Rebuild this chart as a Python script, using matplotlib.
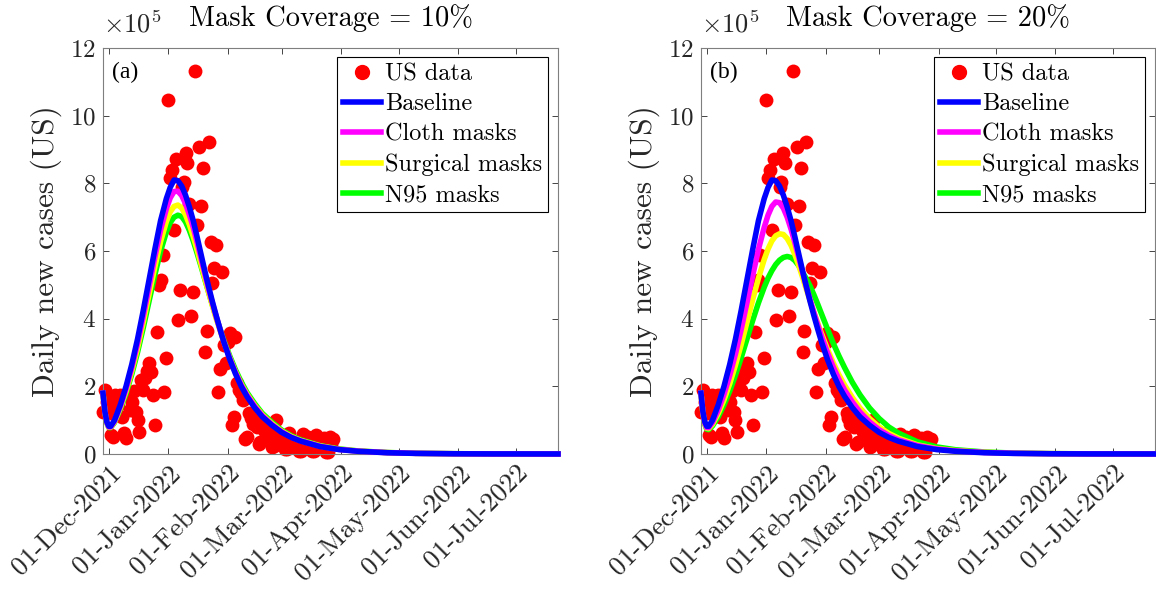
import numpy as np
import matplotlib
matplotlib.use("Agg")
import matplotlib.pyplot as plt
import matplotlib.dates as mdates
from matplotlib.lines import Line2D

plt.rcParams["font.family"] = ["cmr10", "DejaVu Serif"]
plt.rcParams["mathtext.fontset"] = "cm"
plt.rcParams["axes.formatter.use_mathtext"] = True

# day offsets are counted from 01-Dec-2021, values in units of 1e5 cases
start = np.datetime64("2021-12-01")

data_days = list(range(-3, 118))
data_vals = [1.25, 1.89, 1.55, 1.2, 0.55, 0.51, 1.75, 1.25, 1.45, 1.74,
             1.1, 0.62, 0.46, 1.75, 1.3, 1.55, 1.85, 1.25, 1.0, 0.66,
             2.2, 1.89, 2.25, 2.45, 2.68, 2.43, 1.74, 0.86, 3.62, 5.0,
             5.14, 5.88, 1.84, 2.83, 10.46, 8.15, 8.39, 6.62, 8.71, 3.96,
             4.85, 7.9, 8.05, 8.9, 8.6, 7.4, 4.08, 4.8, 11.32, 6.77,
             9.08, 7.33, 8.45, 3.02, 3.64, 9.23, 6.28, 5.05, 5.5, 6.18,
             1.84, 2.5, 5.39, 3.22, 2.68, 3.3, 3.57, 0.86, 1.1, 3.45,
             2.09, 1.9, 1.79, 1.6, 0.45, 0.5, 1.2, 1.05, 0.9, 1.0,
             0.8, 0.3, 0.35, 0.9, 0.7, 0.6, 0.65, 0.5, 0.2, 0.25,
             1.0, 0.55, 0.45, 0.5, 0.4, 0.15, 0.15, 0.62, 0.35, 0.3,
             0.35, 0.3, 0.1, 0.1, 0.6, 0.3, 0.25, 0.51, 0.25, 0.08,
             0.08, 0.55, 0.25, 0.25, 0.3, 0.47, 0.05, 0.05, 0.5, 0.3,
             0.45]

curve_days = [-3, -2, -1, 0, 1, 3, 6, 9, 12, 15, 18, 21, 24, 27, 30, 32, 34, 36,
              38, 40, 42, 44, 46, 48, 50, 52, 54, 56, 58, 60, 63, 66, 69, 72, 76,
              80, 85, 90, 95, 100, 110, 120, 130, 145, 160, 180, 200, 234]

baseline = [1.80, 1.25, 0.95, 0.82, 0.82, 1.0, 1.45, 2.0, 2.65, 3.4, 4.25, 5.15,
            6.05, 6.9, 7.55, 7.88, 8.1, 8.08, 7.92, 7.65, 7.3, 6.9, 6.42, 5.92,
            5.42, 4.95, 4.5, 4.08, 3.68, 3.3, 2.8, 2.37, 2.0, 1.7, 1.37, 1.1,
            0.85, 0.64, 0.49, 0.38, 0.22, 0.13, 0.08, 0.038, 0.018, 0.007, 0.003, 0.001]

# panel (a): 10% coverage
cloth_10 = [1.80, 1.25, 0.94, 0.8, 0.8, 0.97, 1.4, 1.92, 2.55, 3.27, 4.08, 4.95,
            5.82, 6.62, 7.25, 7.57, 7.76, 7.77, 7.64, 7.4, 7.07, 6.7, 6.26, 5.8,
            5.33, 4.88, 4.46, 4.06, 3.68, 3.32, 2.83, 2.41, 2.04, 1.74, 1.41, 1.13,
            0.87, 0.66, 0.5, 0.39, 0.23, 0.135, 0.083, 0.04, 0.019, 0.008, 0.003, 0.001]
surgical_10 = [1.80, 1.24, 0.93, 0.79, 0.79, 0.95, 1.36, 1.85, 2.45, 3.13, 3.9, 4.72,
               5.53, 6.28, 6.87, 7.16, 7.32, 7.36, 7.27, 7.07, 6.78, 6.43, 6.04, 5.62,
               5.2, 4.78, 4.38, 4.0, 3.65, 3.31, 2.84, 2.43, 2.07, 1.77, 1.44, 1.16,
               0.9, 0.68, 0.52, 0.4, 0.24, 0.14, 0.086, 0.042, 0.02, 0.008, 0.003, 0.001]
n95_10 = [1.80, 1.23, 0.92, 0.78, 0.78, 0.93, 1.32, 1.79, 2.36, 3.01, 3.74, 4.52,
          5.29, 6.0, 6.56, 6.84, 7.0, 7.06, 7.02, 6.86, 6.61, 6.3, 5.94, 5.56,
          5.17, 4.78, 4.4, 4.03, 3.69, 3.36, 2.9, 2.49, 2.13, 1.82, 1.49, 1.2,
          0.94, 0.71, 0.54, 0.42, 0.25, 0.15, 0.09, 0.044, 0.021, 0.009, 0.003, 0.001]

# panel (b): 20% coverage
cloth_20 = [1.80, 1.23, 0.92, 0.78, 0.78, 0.93, 1.3, 1.76, 2.32, 2.96, 3.69, 4.48,
            5.28, 6.05, 6.7, 7.06, 7.32, 7.45, 7.43, 7.27, 7.0, 6.65, 6.25, 5.82,
            5.38, 4.95, 4.55, 4.17, 3.81, 3.47, 3.0, 2.58, 2.21, 1.89, 1.54, 1.24,
            0.95, 0.72, 0.55, 0.42, 0.25, 0.15, 0.09, 0.044, 0.021, 0.009, 0.004, 0.001]
surgical_20 = [1.80, 1.22, 0.9, 0.76, 0.75, 0.88, 1.2, 1.6, 2.08, 2.63, 3.24, 3.9,
               4.57, 5.2, 5.75, 6.06, 6.3, 6.45, 6.51, 6.49, 6.37, 6.17, 5.9, 5.58,
               5.23, 4.87, 4.52, 4.18, 3.86, 3.55, 3.1, 2.7, 2.34, 2.03, 1.67, 1.36,
               1.05, 0.8, 0.61, 0.47, 0.27, 0.16, 0.1, 0.05, 0.023, 0.01, 0.004, 0.001]
n95_20 = [1.80, 1.2, 0.88, 0.73, 0.72, 0.83, 1.1, 1.45, 1.86, 2.33, 2.85, 3.4,
          3.95, 4.47, 4.93, 5.2, 5.42, 5.6, 5.73, 5.81, 5.84, 5.81, 5.72, 5.57,
          5.37, 5.18, 4.96, 4.7, 4.42, 4.13, 3.7, 3.28, 2.9, 2.55, 2.12, 1.75,
          1.36, 1.05, 0.8, 0.62, 0.36, 0.21, 0.125, 0.06, 0.028, 0.011, 0.005, 0.001]

panels = [
    ("(a)", "Mask Coverage = 10%", cloth_10, surgical_10, n95_10),
    ("(b)", "Mask Coverage = 20%", cloth_20, surgical_20, n95_20),
]

data_x = start + np.array(data_days, dtype="timedelta64[D]")
curve_x = start + np.array(curve_days, dtype="timedelta64[D]")
month_ticks = [np.datetime64(m) for m in
               ["2021-12-01", "2022-01-01", "2022-02-01", "2022-03-01",
                "2022-04-01", "2022-05-01", "2022-06-01", "2022-07-01"]]

fig = plt.figure(figsize=(11.56, 5.9), dpi=100)
positions = [[0.0891, 0.2305, 0.3936, 0.688], [0.6064, 0.2305, 0.3927, 0.688]]
axcol = "#262626"

for pos, (tag, title, cloth, surgical, n95) in zip(positions, panels):
    ax = fig.add_axes(pos)
    ax.scatter(data_x, data_vals, s=100, color="#ff0000", linewidths=0,
               zorder=2, clip_on=False)
    ax.plot(curve_x, n95, color="#00ff00", lw=4, zorder=3, clip_on=False)
    ax.plot(curve_x, surgical, color="#ffff00", lw=4, zorder=4, clip_on=False)
    ax.plot(curve_x, cloth, color="#ff00ff", lw=4, zorder=5, clip_on=False)
    ax.plot(curve_x, baseline, color="#0000ff", lw=4, zorder=6, clip_on=False)

    ax.set_xlim(np.datetime64("2021-11-28"), np.datetime64("2022-07-23"))
    ax.set_ylim(0, 12)
    ax.set_yticks(range(0, 13, 2))
    ax.set_xticks(month_ticks)
    ax.xaxis.set_major_formatter(mdates.DateFormatter("%d-%b-%Y"))
    ax.tick_params(direction="in", length=4, width=0.6, top=True, right=True,
                   labelsize=18, colors=axcol, pad=5)
    ax.tick_params(axis="x", labelsize=19.5)
    for lab in ax.get_xticklabels():
        lab.set_rotation(45)
        lab.set_ha("right")
        lab.set_rotation_mode("anchor")
    for sp in ax.spines.values():
        sp.set_color("#7f7f7f")
        sp.set_linewidth(0.8)
    ax.set_ylabel("Daily new cases (US)", fontsize=22.5, color=axcol, labelpad=6)
    ax.set_title(title, fontsize=20.5, color="black", pad=16)
    ax.text(0.0, 1.025, r"$\times10^{5}$", transform=ax.transAxes,
            fontsize=19, color=axcol, ha="left", va="bottom")
    ax.text(0.02, 0.94, tag, transform=ax.transAxes, fontsize=17,
            family="Liberation Serif", ha="left", va="center")

    handles = [
        Line2D([], [], ls="none", marker="o", ms=10, color="#ff0000"),
        Line2D([], [], color="#0000ff", lw=4),
        Line2D([], [], color="#ff00ff", lw=4),
        Line2D([], [], color="#ffff00", lw=4),
        Line2D([], [], color="#00ff00", lw=4),
    ]
    labels = ["US data", "Baseline", "Cloth masks", "Surgical masks", "N95 masks"]
    leg = ax.legend(handles, labels, loc="upper right", bbox_to_anchor=(0.978, 0.978),
                    borderaxespad=0, fontsize=17.5, handlelength=1.55,
                    handletextpad=0.15, labelspacing=0.33, borderpad=0.25,
                    fancybox=False, framealpha=1, edgecolor="black")
    leg.get_frame().set_linewidth(0.8)
    leg.set_zorder(10)

fig.savefig("out.png", dpi=100)
